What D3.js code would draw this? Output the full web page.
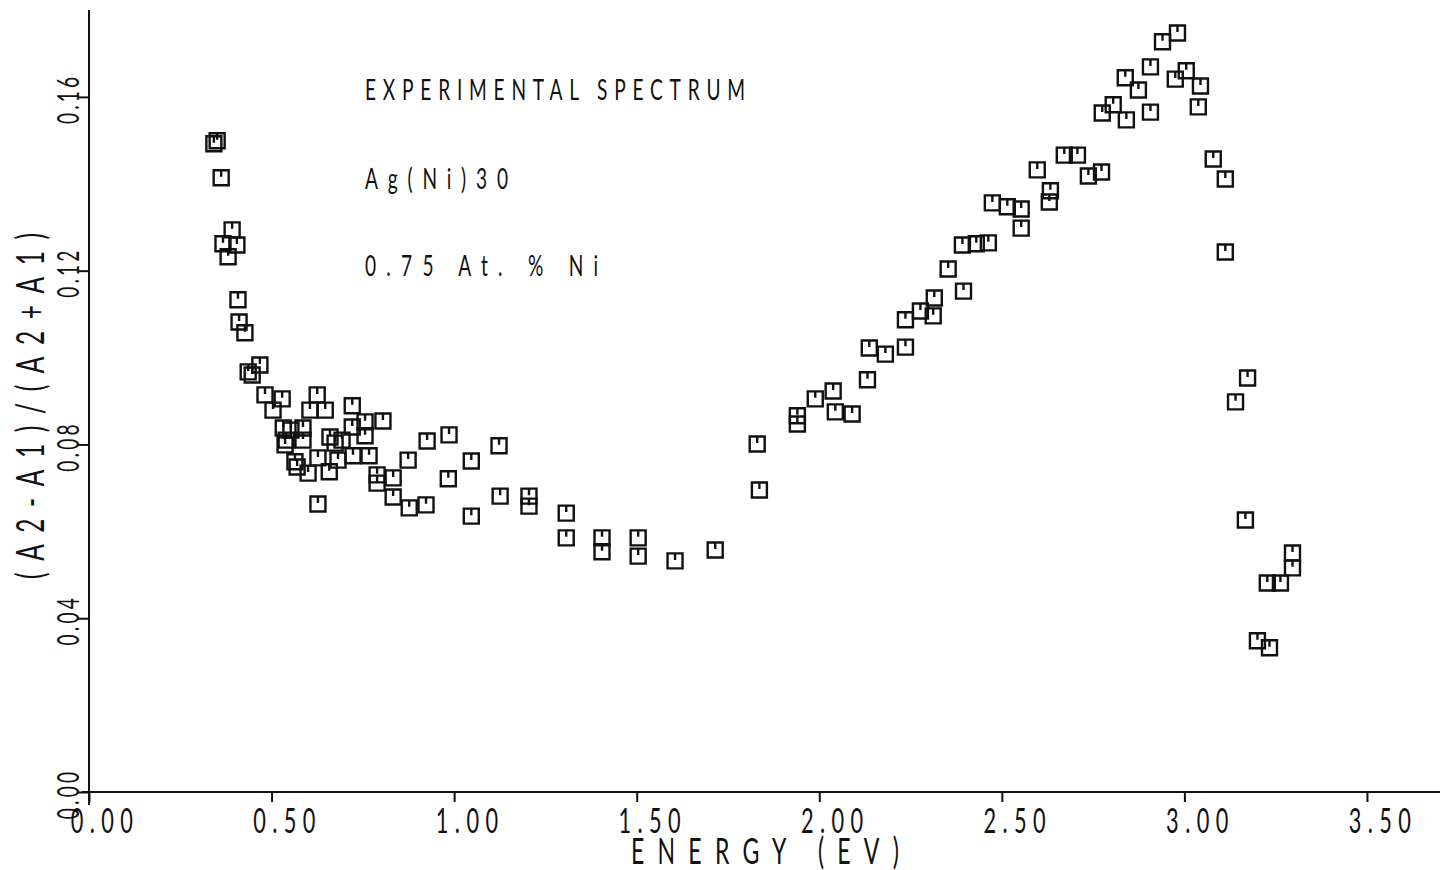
<!DOCTYPE html>
<html><head><meta charset="utf-8">
<script src="https://cdn.jsdelivr.net/npm/d3@7"></script>
<style>html,body{margin:0;padding:0;background:#fff;} svg{display:block;}</style>
</head><body><svg id="chart" width="1440" height="870"></svg>
<script>
const energy = [
  0.342,0.351,0.362,0.392,0.367,0.405,0.381,0.408,0.411,0.427,0.436,0.447,0.468,0.482,0.529,0.504,
  0.625,0.605,0.647,0.721,0.532,0.540,0.537,0.553,0.586,0.586,0.564,0.570,0.600,0.627,0.658,0.660,
  0.674,0.693,0.682,0.723,0.767,0.721,0.756,0.805,0.756,0.627,0.789,0.789,0.833,0.874,0.926,0.986,
  1.123,1.047,0.984,1.047,0.833,0.877,0.923,1.126,1.205,1.205,1.307,1.307,1.405,1.405,1.504,1.504,
  1.605,1.715,
  1.830,1.836,1.940,1.940,1.989,2.038,2.044,2.090,2.132,2.137,2.181,2.236,2.236,2.277,2.315,2.312,
  2.353,2.395,2.392,2.430,2.463,2.474,2.515,2.553,2.553,2.597,2.633,2.630,2.671,2.707,2.737,2.773,
  2.775,2.805,2.841,2.838,2.874,2.907,2.907,2.940,2.981,2.975,3.005,3.044,3.038,3.079,3.112,3.112,
  3.173,3.140,3.167,3.296,3.296,3.227,3.263,3.200,3.233
];
const ratio = [
  0.1492,0.1499,0.1414,0.1294,0.1262,0.1259,0.1232,0.1133,0.1082,0.1057,0.0967,0.0960,0.0983,0.0914,0.0905,0.0879,
  0.0914,0.0879,0.0879,0.0889,0.0838,0.0810,0.0799,0.0833,0.0838,0.0810,0.0760,0.0748,0.0734,0.0769,0.0737,0.0817,
  0.0803,0.0810,0.0764,0.0774,0.0774,0.0840,0.0852,0.0854,0.0820,0.0663,0.0730,0.0711,0.0723,0.0764,0.0808,0.0822,
  0.0797,0.0762,0.0721,0.0635,0.0679,0.0654,0.0661,0.0681,0.0681,0.0658,0.0642,0.0585,0.0585,0.0553,0.0585,0.0543,
  0.0532,0.0557,
  0.0801,0.0695,0.0866,0.0847,0.0905,0.0923,0.0875,0.0870,0.0949,0.1022,0.1008,0.1024,0.1087,0.1107,0.1137,0.1096,
  0.1204,0.1153,0.1259,0.1262,0.1264,0.1356,0.1347,0.1342,0.1298,0.1432,0.1384,0.1358,0.1466,0.1466,0.1418,0.1427,
  0.1563,0.1582,0.1547,0.1644,0.1616,0.1669,0.1565,0.1727,0.1747,0.1641,0.1660,0.1625,0.1577,0.1457,0.1411,0.1243,
  0.0953,0.0898,0.0626,0.0550,0.0516,0.0481,0.0481,0.0348,0.0332
];
const xTicks = [0, 0.5, 1.0, 1.5, 2.0, 2.5, 3.0, 3.5];
const xTickLabels = ["0.00","0.50","1.00","1.50","2.00","2.50","3.00","3.50"];
const yTicks = [0, 0.04, 0.08, 0.12, 0.16];
const yTickLabels = ["0.00","0.04","0.08","0.12","0.16"];
const annotations = ["EXPERIMENTAL SPECTRUM", "Ag(Ni)30", "0.75 At. % Ni"];
const xTitle = "ENERGY (EV)";
const yTitle = "(A2-A1)/(A2+A1)";

const svg = d3.select("#chart");
const x = d3.scaleLinear().domain([0, 3.70]).range([89, 1440]);
const y = d3.scaleLinear().domain([0, 0.18]).range([792, 10]);
const FONT = "Lato, 'DejaVu Sans', sans-serif";
const INK = "#111";

function txt(str, tx, ty, size, sx, ls, anchor, rot, width) {
  const t = svg.append("text")
    .attr("transform", `translate(${tx},${ty}) rotate(${rot || 0}) scale(${sx},1)`)
    .attr("text-anchor", anchor)
    .style("font-family", FONT)
    .style("font-weight", 400)
    .style("font-size", size + "px")
    .style("fill", INK)
    .text(str);
  if (width) t.attr("textLength", width / sx).attr("lengthAdjust", "spacing");
  else t.style("letter-spacing", ls + "px");
  return t;
}

// axes
const xAxis = d3.axisBottom(x).tickValues(xTicks).tickFormat("").tickSize(10).tickSizeOuter(0);
const gx = svg.append("g").attr("transform", `translate(0,${y(0)})`).call(xAxis);
gx.select(".domain").attr("d", `M82,0H1440`);
const yAxis = d3.axisLeft(y).tickValues(yTicks).tickFormat("").tickSize(11).tickSizeOuter(0);
const gy = svg.append("g").attr("transform", `translate(${x(0)},0)`).call(yAxis);
gy.select(".domain").attr("d", `M0,${y(0.18)}V805`);
svg.selectAll(".domain, .tick line").attr("stroke", INK).attr("stroke-width", 2);

// tick labels
xTicks.forEach((v, i) => txt(xTickLabels[i], x(v) + 16, 833, 34, 0.64, 10, "middle", 0));
yTicks.forEach((v, i) => txt(yTickLabels[i], 79, y(v) + 2, 31, 0.62, 5, "middle", -90));

// titles
txt(xTitle, 765, 864, 36, 0.64, 0, "middle", 0, 268);
txt(yTitle, 44, 406, 38, 0.64, 0, "middle", -90, 346);

// annotations
const annY = [100, 189, 276];
const annW = [380, 143, 233];
annotations.forEach((a, i) => txt(a, 365, annY[i], 29, 0.66, 0, "start", 0, annW[i]));

// markers
const pts = energy.map((e, i) => ({e, r: ratio[i]}));
const s = 7.5;
const mk = svg.append("g").attr("fill", "none").attr("stroke", INK).attr("stroke-width", 2.4);
mk.selectAll("path").data(pts).join("path")
  .attr("d", d => {
    const cx = x(d.e), cy = y(d.r);
    return `M${cx - s},${cy - s}H${cx + s}V${cy + s}H${cx - s}Z M${cx},${cy - s}V${cy - 1}`;
  });
</script></body></html>
